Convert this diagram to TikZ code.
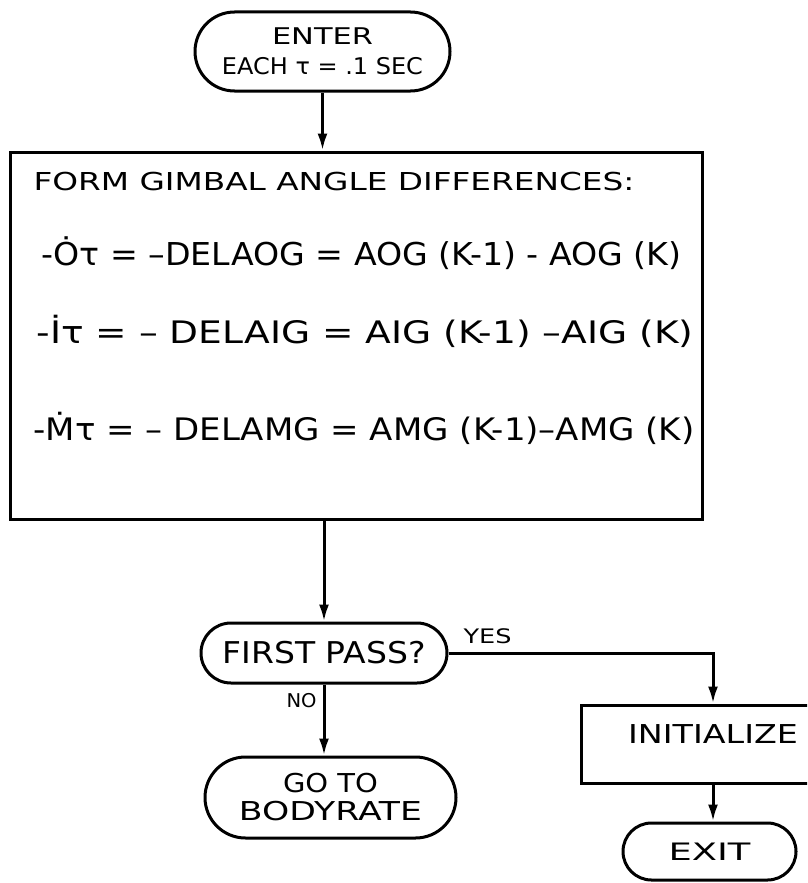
\documentclass[tikz,border=0pt]{standalone}
\usepackage{fontspec}
\setmainfont{DejaVu Sans}
\usetikzlibrary{arrows.meta,shapes.misc}
\newcommand\fitw[2]{\resizebox{#1}{\height}{#2}}
\begin{document}
\begin{tikzpicture}[x=1pt,y=-1pt,
  line width=3pt,
  arr/.style={-{Latex[length=17pt,width=10pt]}},
  stad/.style={draw, rounded rectangle, inner sep=0pt, align=center},
  procbox/.style={draw, rectangle, inner sep=0pt, align=center},
  txt/.style={inner sep=0pt, anchor=base west},
]
\clip (0,0) rectangle (807,883);
\fill[white] (0,0) rectangle (807,883);

\node[stad, minimum width=255pt, minimum height=79pt, font=\fontsize{23}{30}\selectfont] (enter) at (322.5,51.5)
  {\fitw{101pt}{ENTER}\\\fitw{201pt}{EACH τ = .1 SEC}};

\node[procbox, minimum width=692pt, minimum height=367pt] (box) at (356,335.5) {};
\node[txt, font=\fontsize{24.7}{30}\selectfont] (l0) at (32,190) {\fitw{601pt}{FORM GIMBAL ANGLE DIFFERENCES:}};
\node[txt, font=\fontsize{31.5}{36}\selectfont] (l1) at (40,265) {\fitw{640pt}{-Ȯτ = –DELAOG = AOG (K-1) - AOG (K)}};
\node[txt, font=\fontsize{31}{36}\selectfont] (l2) at (35,343) {\fitw{657pt}{-İτ = – DELAIG = AIG (K-1) –AIG (K)}};
\node[txt, font=\fontsize{31}{36}\selectfont] (l3) at (32,440) {\fitw{661pt}{-Ṁτ = – DELAMG = AMG (K-1)–AMG (K)}};

\node[stad, minimum width=246pt, minimum height=60pt, font=\fontsize{30}{36}\selectfont] (fp) at (324,653) {\fitw{203pt}{FIRST PASS?}};
\node[stad, minimum width=251pt, minimum height=81pt, font=\fontsize{26}{28}\selectfont] (goto) at (330.5,797.5)
  {\fitw{95pt}{GO TO}\\\fitw{183pt}{BODYRATE}};
\node[procbox, minimum width=264pt, minimum height=78pt, font=\fontsize{26}{30}\selectfont] (init) at (713,744) {\raisebox{10pt}{\fitw{170pt}{INITIALIZE}}\rule[-10pt]{0pt}{10pt}};
\node[stad, minimum width=173pt, minimum height=57pt, font=\fontsize{24}{28}\selectfont] (exit) at (709.5,851.5) {\fitw{82pt}{EXIT}};

\node[txt, font=\fontsize{20}{24}\selectfont] (yes) at (462,643) {\fitw{48pt}{YES}};
\node[txt, font=\fontsize{19}{22}\selectfont] (no) at (285,707) {\fitw{30pt}{NO}};

\draw[arr] (enter.south) -- (enter.south |- box.north);
\draw[arr] (box.south -| fp.north) -- (fp.north);
\draw[arr] (fp.south) -- (fp.south |- goto.north);
\draw[arr] (fp.east) -| (init.north);
\draw[arr] (init.south) -- (init.south |- exit.north);
\end{tikzpicture}
\end{document}
